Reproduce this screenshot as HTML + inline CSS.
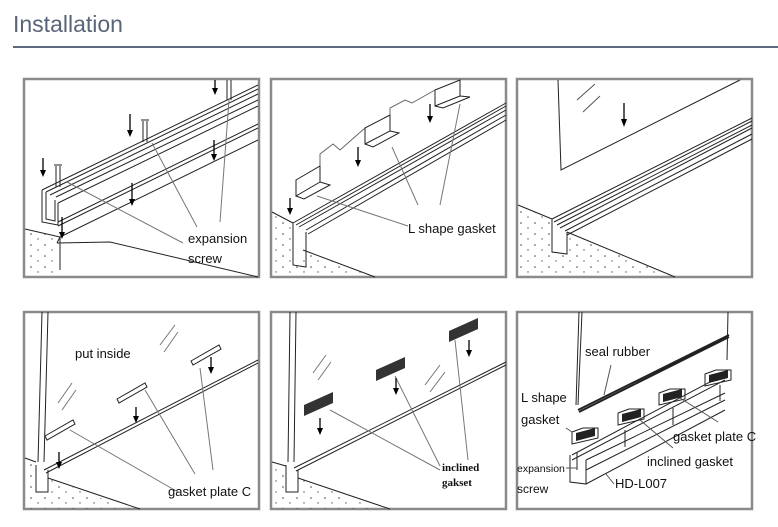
<!DOCTYPE html>
<html><head><meta charset="utf-8"><style>
html,body{margin:0;padding:0;background:#fff;width:778px;height:527px;overflow:hidden}
svg{display:block}
text{font-family:"Liberation Sans",Arial,sans-serif;fill:#111}
</style></head><body>
<svg width="778" height="527" viewBox="0 0 778 527" xmlns="http://www.w3.org/2000/svg">
<defs>
<pattern id="dots" width="14" height="11" patternUnits="userSpaceOnUse">
<circle cx="3" cy="3" r="0.8" fill="#444"/><circle cx="10" cy="8" r="0.7" fill="#555"/></pattern>
</defs>
<text x="13" y="32" font-size="23" style="fill:#5a6478">Installation</text>
<rect x="13" y="46" width="765" height="2" fill="#5d6b80"/>

<g fill="none" stroke="#8a8a8a" stroke-width="2.5">
<rect x="24" y="79" width="235" height="198"/>
<rect x="271" y="79" width="235" height="198"/>
<rect x="517" y="79" width="235" height="198"/>
<rect x="24" y="312" width="235" height="197"/>
<rect x="271" y="312" width="235" height="197"/>
<rect x="517" y="312" width="235" height="197"/>
</g>

<!-- Panel 1 -->
<g stroke="#222" stroke-width="1" fill="none">
<polygon points="25,229 58,237 58,276 25,276" fill="url(#dots)" stroke="none"/>
<path d="M25,229 L60,237 L60,270 M60,237 L258,140 M57,243 L110,242 L258,277 M60,237 L57,243"/>
<path d="M42,190 L258,85 M46,192 L258,89 M50,195 L258,94 M56,197 L258,100 M58,203 L258,106"/>
<path d="M42,190 L42,222 L58,225 L58,203 M46,192 L46,219 L55,221 L55,200"/>
<path d="M58,222 L258,124 M58,226 L258,128"/>
<path d="M56,166 L56,187 M60,166 L60,187 M54,165 L62,165 M143,121 L143,142 M147,121 L147,142 M141,120 L149,120 M227,80 L227,100 M231,80 L231,100"/>
<path d="M67,182 L183,243 M152,143 L197,227 M229,100 L220,222" stroke="#777"/>
</g>
<g stroke="#000" stroke-width="1.3">
<line x1="43" y1="158" x2="43" y2="170"/><line x1="130" y1="114" x2="130" y2="130"/>
<line x1="214" y1="140" x2="214" y2="154"/><line x1="132" y1="183" x2="132" y2="199"/>
<line x1="62" y1="217" x2="62" y2="232"/><line x1="215" y1="80" x2="215" y2="88"/>
</g>
<g fill="#000">
<polygon points="40,170 46,170 43,177"/><polygon points="127,130 133,130 130,137"/>
<polygon points="211,154 217,154 214,161"/><polygon points="129,199 135,199 132,206"/>
<polygon points="59,232 65,232 62,239"/><polygon points="212,88 218,88 215,95"/>
</g>
<text x="188" y="243" font-size="13">expansion</text>
<text x="188" y="263" font-size="13">screw</text>

<!-- Panel 2 -->
<g stroke="#222" stroke-width="1" fill="none">
<polygon points="272,212 293,223 293,266 303,250 375,276 272,276" fill="url(#dots)" stroke="none"/>
<path d="M272,212 L293,223 M303,250 L375,277"/>
<path d="M293,223 L506,103 M296,225 L506,106 M299,227 L506,110 M306,230 L506,115 M308,234 L506,120"/>
<path d="M293,223 L293,265 L306,267 L306,232"/>
<path d="M296,180 L320,166 L320,182 L296,196z M296,196 L304,199 L330,185 L320,182"/>
<path d="M365,128 L390,115 L390,131 L365,144z M365,144 L373,147 L399,133 L390,131"/>
<path d="M435,90 L460,80 L460,96 L435,106z M435,106 L443,108 L470,97 L460,96"/>
<path d="M320,166 L320,154 L333,144 L340,150 L365,128 M390,115 L390,108 L405,100 L412,103 L435,90" stroke="#666"/>
<path d="M317,196 L408,226 M392,147 L418,205 M460,104 L440,205" stroke="#777"/>
</g>
<g stroke="#000" stroke-width="1.3">
<line x1="290" y1="198" x2="290" y2="208"/><line x1="358" y1="147" x2="358" y2="160"/>
<line x1="430" y1="104" x2="430" y2="116"/>
</g>
<g fill="#000"><polygon points="287,208 293,208 290,215"/><polygon points="355,160 361,160 358,167"/><polygon points="427,116 433,116 430,123"/></g>
<text x="408" y="233" font-size="13">L shape gasket</text>

<!-- Panel 3 -->
<g stroke="#222" stroke-width="1" fill="none">
<polygon points="518,205 552,219 552,252 567,254 567,232 675,276 518,276" fill="url(#dots)" stroke="none"/>
<path d="M518,205 L552,219 M567,232 L675,277"/>
<path d="M558,80 L561,170 L740,80" />
<path d="M552,219 L752,118 M554,222 L752,121 M557,225 L752,125 M560,228 L752,128 M565,231 L752,134 M567,235 L752,139"/>
<path d="M552,219 L552,252 L567,254 L567,232"/>
<path d="M577,100 L595,84 M583,112 L600,96" stroke="#555"/>
</g>
<line x1="624" y1="103" x2="624" y2="119" stroke="#000" stroke-width="1.3"/>
<polygon points="621,119 627,119 624,127" fill="#000"/>

<!-- Panel 4 -->
<g stroke="#222" stroke-width="1" fill="none">
<polygon points="25,458 36,462 36,492 48,492 48,478 130,509 25,509" fill="url(#dots)" stroke="none"/>
<path d="M25,458 L36,462 M48,478 L140,509"/>
<path d="M42,312 L38,462 M48,312 L44,462"/>
<path d="M44,470 L258,360 M46,473 L258,363"/>
<path d="M36,465 L36,492 L48,492 L48,470"/>
<path d="M45,436 L73,420 L75,424 L47,440z M117,399 L145,383 L147,387 L119,403z M191,361 L219,345 L221,349 L193,365z"/>
<path d="M70,430 L178,492 M145,390 L195,474 M200,368 L213,470" stroke="#777"/>
<path d="M58,403 L72,383 M62,410 L76,390 M160,345 L175,325 M164,352 L178,332" stroke="#777"/>
</g>
<g stroke="#000" stroke-width="1.3">
<line x1="59" y1="452" x2="59" y2="462"/><line x1="136" y1="407" x2="136" y2="416"/>
<line x1="211" y1="357" x2="211" y2="367"/>
</g>
<g fill="#000"><polygon points="56,462 62,462 59,469"/><polygon points="133,416 139,416 136,423"/><polygon points="208,367 214,367 211,374"/></g>
<text x="75" y="358" font-size="13">put inside</text>
<text x="168" y="496" font-size="13">gasket plate C</text>

<!-- Panel 5 -->
<g stroke="#222" stroke-width="1" fill="none">
<polygon points="272,462 286,466 286,492 298,492 298,478 380,509 272,509" fill="url(#dots)" stroke="none"/>
<path d="M272,462 L286,466 M298,478 L390,509"/>
<path d="M290,312 L288,462 M296,312 L294,462"/>
<path d="M294,468 L506,362 M296,471 L506,365"/>
<path d="M286,465 L286,492 L298,492 L298,470"/>
<path d="M330,410 L440,470 M395,376 L440,466 M455,340 L468,460" stroke="#777"/>
<path d="M313,373 L326,355 M318,380 L331,362 M425,385 L440,365 M430,392 L445,372" stroke="#777"/>
</g>
<g fill="#333">
<polygon points="304,405 333,392 333,403 304,416"/>
<polygon points="376,370 405,357 405,368 376,381"/>
<polygon points="449,331 478,318 478,329 449,342"/>
</g>
<g stroke="#000" stroke-width="1.3">
<line x1="320" y1="418" x2="320" y2="428"/><line x1="396" y1="378" x2="396" y2="388"/>
<line x1="469" y1="340" x2="469" y2="350"/>
</g>
<g fill="#000"><polygon points="317,428 323,428 320,435"/><polygon points="393,388 399,388 396,395"/><polygon points="466,350 472,350 469,357"/></g>
<text x="442" y="471" font-size="11" font-weight="bold" style="font-family:'Liberation Serif',serif">inclined</text>
<text x="442" y="486" font-size="11" font-weight="bold" style="font-family:'Liberation Serif',serif">gakset</text>

<!-- Panel 6 -->
<g stroke="#222" stroke-width="1" fill="none">
<path d="M579,312 L576,405 M582,312 L578,405 M728,312 L727,360"/>
<path d="M578,410 L729,335 M579,412 L729,337" stroke-width="2"/>
<path d="M572,455 L725,374 M572,460 L725,380 M586,460 L725,393 M586,470 L725,400"/>
<path d="M570,455 L570,482 L586,484 L586,460 M586,484 L725,410"/>
<path d="M572,432 L583,428 L598,428 L598,438 L572,444z M618,413 L629,409 L644,409 L644,419 L618,425z M659,393 L670,389 L685,389 L685,399 L659,405z M705,374 L716,370 L731,370 L731,380 L705,386z"/>
<path d="M577,452 L577,470 M625,430 L625,447 M673,408 L673,425 M720,385 L720,401"/>
<path d="M604,395 L611,365 M566,428 L572,432 M640,420 L673,448 M680,398 L718,422 M614,484 L606,474 M566,468 L577,468" stroke="#555"/>
</g>
<g fill="#222">
<polygon points="576,433 595,428 595,436 576,441"/><polygon points="622,414 641,409 641,417 622,422"/>
<polygon points="663,394 682,389 682,397 663,402"/><polygon points="709,375 728,370 728,378 709,383"/>
</g>
<text x="585" y="356" font-size="13">seal rubber</text>
<text x="521" y="402" font-size="13">L shape</text>
<text x="521" y="424" font-size="13">gasket</text>
<text x="673" y="441" font-size="13">gasket plate C</text>
<text x="647" y="466" font-size="13">inclined gasket</text>
<text x="517" y="472" font-size="10.5">expansion</text>
<text x="517" y="493" font-size="12">screw</text>
<text x="615" y="488" font-size="13">HD-L007</text>
</svg>
</body></html>
